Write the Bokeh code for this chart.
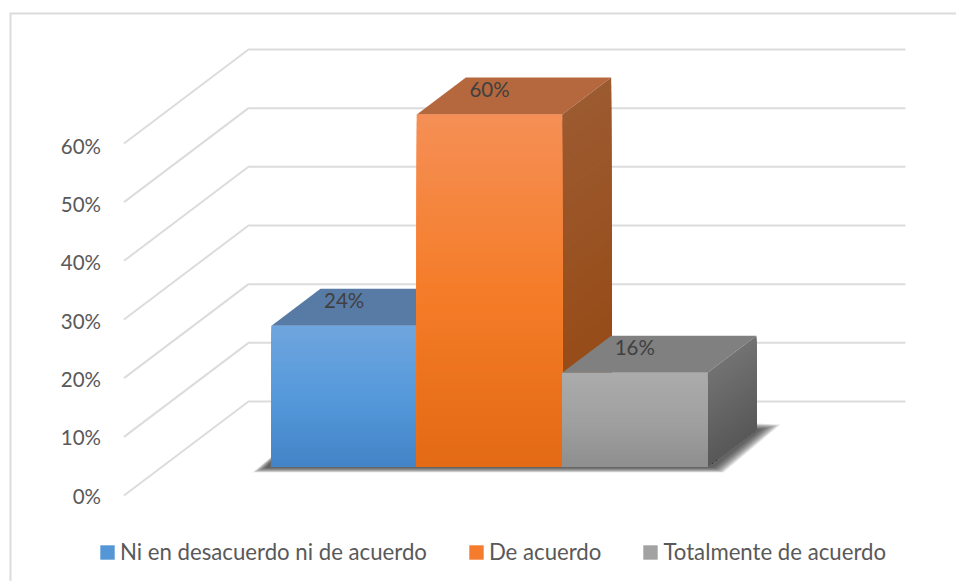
from bokeh.plotting import figure
from bokeh.models import Range1d, LinearAxis, FixedTicker, Legend, LegendItem, CustomJSTickFormatter
from bokeh.core.properties import value
from bokeh.embed import file_html
from bokeh.resources import INLINE

categories = ["Ni en desacuerdo ni de acuerdo", "De acuerdo", "Totalmente de acuerdo"]
values = [24, 60, 16]
value_labels = ["24%", "60%", "16%"]
axis_ticks = [0, 10, 20, 30, 40, 50, 60]

FONT = "Lato"
W, H = 956, 581
# page pixel <-> data scale
X0, UX = 271.0, 145.33
Y0, UY = 495.0, 5.867
def px(x): return (x - X0) / UX
def py(y): return (Y0 - y) / UY

p = figure(width=W, height=H, output_backend="svg", toolbar_location=None,
           x_range=Range1d(px(0), px(W)), y_range=Range1d(py(H), py(0)),
           min_border=0, min_border_left=0, min_border_right=0, min_border_top=0, min_border_bottom=0,
           x_axis_type=None, y_axis_type=None, outline_line_color=None, background_fill_color="white")
p.grid.visible = False

# frame of the chart area
GRID = "#DCDCDC"
p.segment([px(9)], [py(13)], [px(W)], [py(13)], line_color=GRID, line_width=2)
p.segment([px(10)], [py(13)], [px(10)], [py(H)], line_color=GRID, line_width=2)

# 3D wall: front plane -> back wall
wall_dx = (248 - 123.5) / UX
wall_dy = 94 / UY
front_x = px(123.5)
right_x = px(905)
xs = [[front_x, front_x + wall_dx, right_x] for t in axis_ticks]
ys = [[t, t + wall_dy, t + wall_dy] for t in axis_ticks]
p.multi_line(xs, ys, line_color=GRID, line_width=2)

# bars
floor = (495 - 466) / UY
dx = 49 / UX
dy = 37 / UY
n = len(values)


def hex_mix(a, b, t):
    ca = [int(a[i:i + 2], 16) for i in (1, 3, 5)]
    cb = [int(b[i:i + 2], 16) for i in (1, 3, 5)]
    return "#%02x%02x%02x" % tuple(round(u + (v - u) * t) for u, v in zip(ca, cb))


def ramp(stops, t):
    k = min(int(t * (len(stops) - 1)), len(stops) - 2)
    return hex_mix(stops[k], stops[k + 1], t * (len(stops) - 1) - k)


front_cols = [["#6fa5de", "#5599db", "#4283c6"], ["#f58f55", "#f57c28", "#e36a14"], ["#ababab", "#a0a0a0", "#8e8e8e"]]
top_cols = ["#587ba5", "#b5683d", "#808080"]
side_cols = [["#40668c", "#2f5a85"], ["#9c5a30", "#95470f"], ["#727272", "#585858"]]
legend_cols = ["#5596d6", "#f47c2c", "#a2a2a2"]

# soft shadow on the floor, under the bars
LAYERS = 14
for k in range(LAYERS):
    g = 1 - k / (LAYERS - 1)
    sx = [-(5 + 14 * g) / UX, n + (6 + 10 * g) / UX, n + dx + (4 + 20 * g) / UX, n + dx, 0]
    sy = [floor - (1 + 5 * g) / UY, floor - (1 + 5 * g) / UY, floor + (37 + 5 * g) / UY,
          floor + (37 + 6 * g) / UY, floor + (5 + 5 * g) / UY]
    p.patch(sx, sy, fill_color="#303030", fill_alpha=0.095, line_color=None)

STRIPS = 48
legend_items = []
for i, v in enumerate(values):
    top = v + floor
    # mid-tone base; named in the legend
    base = p.quad(left=[i], right=[i + 1], bottom=[floor], top=[top], fill_color=legend_cols[i], line_color=None)
    legend_items.append(LegendItem(label=categories[i], renderers=[base]))
    # top face
    p.patch([i, i + 1, i + 1 + dx, i + dx], [top, top, top + dy, top + dy], fill_color=top_cols[i], line_color=None)
    # side face: each strip runs down to the floor so that no seams show
    for s in range(STRIPS):
        a = s / STRIPS
        ya = top + (floor - top) * a
        p.patch([i + 1, i + 1 + dx, i + 1 + dx, i + 1], [ya, ya + dy, floor + dy, floor],
                fill_color=ramp(side_cols[i], a), line_color=None)
    # front face
    for s in range(STRIPS):
        a = s / STRIPS
        p.quad(left=[i], right=[i + 1], top=[top + (floor - top) * a], bottom=[floor],
               fill_color=ramp(front_cols[i], a), line_color=None)
    p.text([i + 0.5], [top + 4.3], text=[value_labels[i]], text_align="center", text_baseline="middle",
           text_color="#404040", text_font=value(FONT), text_font_size="20.5px")

# value axis, drawn inside the frame next to the wall; its labels run on a slightly tighter scale than the wall
LABEL_UY = 5.833
p.extra_y_ranges["labels"] = Range1d((495 - H) / LABEL_UY, 495 / LABEL_UY)
axis = LinearAxis(fixed_location=px(106.5), y_range_name="labels", ticker=FixedTicker(ticks=axis_ticks),
                  formatter=CustomJSTickFormatter(code="return tick + '%'"),
                  axis_line_color=None, major_tick_line_color=None, minor_tick_line_color=None,
                  major_label_standoff=0, major_label_text_color="#595959",
                  major_label_text_font=FONT, major_label_text_font_size="20.5px")
p.add_layout(axis, "left")

legend = Legend(items=legend_items, orientation="horizontal", location=(98, 16),
                border_line_color=None, background_fill_alpha=0, margin=0, padding=0,
                glyph_width=18, glyph_height=18, label_standoff=4, spacing=40,
                label_text_font=FONT, label_text_font_size="22.2px", label_text_color="#595959",
                label_height=20, label_text_baseline="middle")
p.add_layout(legend, "center")

open("out.html", "w").write(file_html(p, INLINE))
